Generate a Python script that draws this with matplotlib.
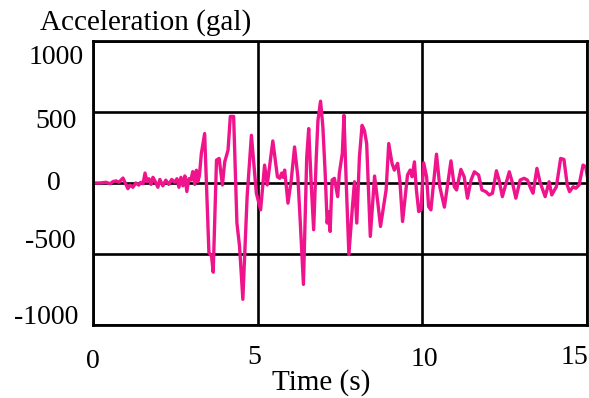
from matplotlib import pyplot as plt
import numpy as np

plt.rcParams['font.family'] = ['Liberation Serif', 'DejaVu Serif']

# acceleration record
time_s = [
    0.00, 0.21, 0.39, 0.52, 0.61, 0.70, 0.79, 0.91, 1.00, 1.06, 1.12, 1.21,
    1.30, 1.39, 1.45, 1.52, 1.58, 1.64, 1.70, 1.76, 1.82, 1.88, 1.97, 2.03,
    2.12, 2.21, 2.30, 2.39, 2.48, 2.55, 2.61, 2.67, 2.73, 2.79, 2.85, 2.91,
    2.97, 3.03, 3.09, 3.14, 3.18, 3.23,
    3.29, 3.39, 3.52, 3.60, 3.65, 3.75, 3.83, 3.93, 4.00, 4.10, 4.17, 4.27,
    4.37, 4.45, 4.55, 4.68, 4.81, 4.96, 5.09, 5.21, 5.29, 5.46, 5.60, 5.67,
    5.73, 5.77, 5.82, 5.92, 6.02, 6.12, 6.22, 6.29, 6.39, 6.49, 6.55, 6.63,
    6.70, 6.78, 6.83, 6.91, 6.98, 7.05, 7.11, 7.15, 7.20, 7.26, 7.33, 7.43,
    7.48, 7.57, 7.62, 7.69, 7.77, 7.87, 7.94, 8.01, 8.09, 8.17, 8.24, 8.31,
    8.42, 8.55, 8.65, 8.73, 8.90, 8.98, 9.08, 9.15, 9.25, 9.32, 9.40, 9.48,
    9.55, 9.63, 9.69, 9.76, 9.82, 9.89, 9.96, 10.04, 10.13, 10.19,
    10.26, 10.43, 10.53, 10.67, 10.87, 10.97, 11.04, 11.17, 11.27, 11.37,
    11.48, 11.58, 11.71, 11.81, 11.93, 12.03, 12.13, 12.25, 12.33, 12.43,
    12.64, 12.74, 12.84, 12.97, 13.09, 13.19, 13.29, 13.36, 13.48, 13.57,
    13.73, 13.85, 13.93, 14.07, 14.20, 14.30, 14.40, 14.47, 14.58, 14.66,
    14.76, 14.88, 14.96, 15.03,
]
accel_gal = [
    0, 0, 5, -5, 10, 15, 5, 35, -10, -40, -15, -30,
    0, -15, 5, -5, 70, 10, 30, -10, 40, 15, -30, 25,
    -20, 20, -10, 25, 5, 30, -30, 40, -20, 50, -60, 30,
    20, 80, -10, 90, 10, 50,
    208, 348, -490, -516, -628, 161, 173, -14, 149, 231, 469, 469,
    -282, -446, -819, -96, 336, -72, -189, 126, -14, 296, 44, 33,
    70, 40, 91, -142, 21, 254, 44, -259, -714, 184, 383, -26,
    -329, 184, 441, 576, 394, 68, -282, -201, -341, 21, 33, -96,
    68, 208, 476, -2, -504, -189, 9, -282, 184, 406, 371, 278,
    -376, 49, -142, -306, -49, 278, 138, 91, 138, 9, -271, -96,
    56, 91, 44, 149, -49, -201, -189, 142, 44, -166,
    -189, 203, -26, -170, 156, -26, -49, 96, 44, -107,
    21, 79, 56, -49, -61, -84, -72, 86, 21, -96,
    79, -2, -107, 21, 33, 21, -37, -72, 103, 9,
    -96, 9, -84, -26, 173, 166, -14, -61, -26, -37,
    -14, 126, 114, 21,
]

x_ticks = [0, 5, 10, 15]
y_ticks = [1000, 500, 0, -500, -1000]

# label offsets in pixels, the scanned original has them a bit off the grid
x_label_offsets = [(0, -37), (-3, -32), (2, -34), (-13, -32)]
y_label_offsets = [(-37, -16), (-37, -10), (-39, 0), (-43, 13), (-47, 8)]

fig = plt.figure(figsize=(5.89, 3.98), dpi=100)
ax = fig.add_axes([93 / 589, 1 - 325 / 398, 494 / 589, 284 / 398])

ax.plot(time_s, accel_gal, color='#f0148c', linewidth=2.4, solid_joinstyle='round')

ax.set_xlim(0, 15)
ax.set_ylim(-1000, 1000)
ax.set_xticks(x_ticks)
ax.set_yticks(y_ticks)
ax.tick_params(length=0, labelbottom=False, labelleft=False)
ax.grid(True, color='black', linewidth=1.9)
for spine in ax.spines.values():
    spine.set_linewidth(2.0)

for val, (dx, dy) in zip(x_ticks, x_label_offsets):
    ax.annotate(str(val), xy=(val, 0), xycoords=('data', 'axes fraction'),
                xytext=(dx, dy), textcoords='offset pixels',
                ha='center', va='center', fontsize=20, annotation_clip=False)
for val, (dx, dy) in zip(y_ticks, y_label_offsets):
    ax.annotate(str(val), xy=(0, val), xycoords=('axes fraction', 'data'),
                xytext=(dx, dy), textcoords='offset pixels',
                ha='center', va='center', fontsize=20, annotation_clip=False)

fig.text(40 / 589, 1 - 30 / 398, 'Acceleration (gal)', fontsize=21, va='baseline', ha='left')
fig.text(321 / 589, 1 - 390 / 398, 'Time (s)', fontsize=21, va='baseline', ha='center')

fig.savefig('out.png', dpi=100)
